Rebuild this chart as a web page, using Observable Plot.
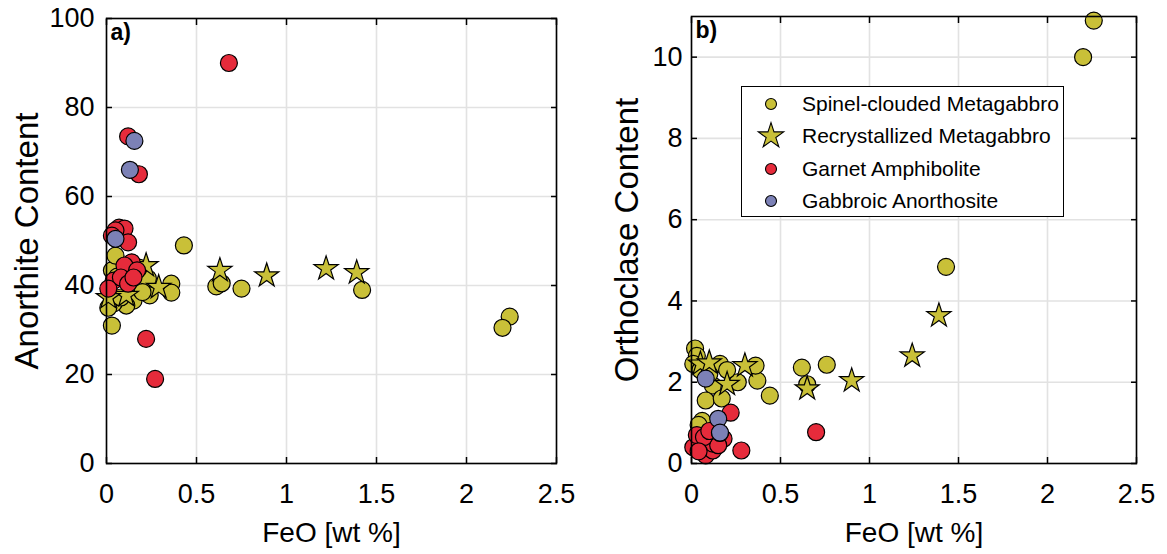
<!DOCTYPE html>
<html><head><meta charset="utf-8">
<script src="https://cdn.jsdelivr.net/npm/d3@7"></script>
<script src="https://cdn.jsdelivr.net/npm/@observablehq/plot@0.6"></script>
<style>
body{margin:0;background:#fff;font-family:"Liberation Sans",Arial,sans-serif;}
#wrap{position:relative;width:1167px;height:554px;display:flex;}
#legend{position:absolute;left:741px;top:86px;width:321px;height:129px;border:1.5px solid #000;background:#fff;font-size:21px;color:#000;}
.row{position:absolute;left:0;height:30px;display:flex;align-items:center;}
.row svg{width:60px;height:30px;}
</style></head><body><div id="wrap"></div>
<script>
// ---- categories / labels ----
const categories = ["Spinel-clouded Metagabbro","Recrystallized Metagabbro","Garnet Amphibolite","Gabbroic Anorthosite"];
const xTicks = [0,0.5,1,1.5,2,2.5];
const yTicksA = [0,20,40,60,80,100];
const yTicksB = [0,2,4,6,8,10];

// ---- panel a: FeO vs Anorthite ----
const spinelFeoA = [2.24,2.20,1.42,0.75,0.61,0.64,0.43,0.36,0.36,0.24,0.23,0.15,0.11,0.04,0.01,0.03,0.08,0.03,0.05,0.18,0.20,0.06];
const spinelAnA  = [33,30.5,39,39.3,39.8,40.5,49,40.4,38.4,37.8,41.6,36.6,35.5,36,35,31,37.3,43.4,46.7,44,38.5,42];
const recrystFeoA = [0.63,0.89,1.22,1.39,0.29,0.22,0.11,0.01];
const recrystAnA  = [43.4,42.2,43.8,42.9,39.6,44.5,37.8,37.3];
const garnetFeoA = [0.68,0.12,0.18,0.07,0.10,0.05,0.03,0.12,0.14,0.10,0.17,0.04,0.08,0.12,0.15,0.01,0.22,0.27];
const garnetAnA  = [90,73.5,65,53,52.8,52.4,51.2,49.7,45.2,44.5,43.4,41.1,41.8,40.4,41.8,39.3,28,19];
const anorthFeoA = [0.155,0.13,0.05];
const anorthAnA  = [72.5,66,50.5];

// ---- panel b: FeO vs Orthoclase ----
const spinelFeoB = [2.26,2.20,1.43,0.62,0.76,0.65,0.44,0.37,0.36,0.26,0.16,0.02,0.03,0.01,0.12,0.08,0.17,0.06,0.05,0.10,0.20,0.04];
const spinelOrB  = [10.9,10.0,4.84,2.36,2.43,1.95,1.67,2.04,2.41,2.0,2.45,2.83,2.65,2.45,1.92,1.55,1.6,1.05,2.3,2.2,2.3,0.95];
const recrystFeoB = [0.65,0.90,1.24,1.39,0.30,0.20,0.05,0.10];
const recrystOrB  = [1.84,2.04,2.65,3.64,2.41,1.95,2.45,2.48];
const garnetFeoB = [0.70,0.22,0.28,0.05,0.08,0.12,0.18,0.01,0.12,0.03,0.15,0.07,0.10,0.04,0.16];
const garnetOrB  = [0.77,1.25,0.32,0.49,0.2,0.32,0.61,0.4,0.49,0.7,0.45,0.65,0.8,0.3,0.75];
const anorthFeoB = [0.08,0.15,0.16];
const anorthOrB  = [2.09,1.1,0.76];

const colors = {"Spinel-clouded Metagabbro":"#c9c038","Recrystallized Metagabbro":"#c9c038","Garnet Amphibolite":"#e62b3b","Gabbroic Anorthosite":"#7c81b6"};
const symbols = {"Spinel-clouded Metagabbro":"circle","Recrystallized Metagabbro":"star","Garnet Amphibolite":"circle","Gabbroic Anorthosite":"circle"};

function rows(feo, val, cat){ return feo.map((f,i)=>({feo:f, val:val[i], cat})); }

const TICK_FS = 27, XLABEL_FS = 28, YLABEL_FS = 33;

function panel(o){
  const groups = [
    rows(o.sf, o.sv, categories[0]),
    rows(o.rf, o.rv, categories[1]),
    rows(o.gf, o.gv, categories[2]),
    rows(o.af, o.av, categories[3])
  ];
  const dotMarks = groups.map(g => {
    const cat = g[0].cat;
    const isStar = symbols[cat] === "star";
    return Plot.dot(g, {x:"feo", y:"val", r: isStar ? 7.6 : 8.5, symbol: symbols[cat], fill: colors[cat], stroke:"#000", strokeWidth:1.2});
  });
  return Plot.plot({
    width:o.width, height:554,
    marginLeft:o.ml, marginRight:o.mr, marginTop:o.mt, marginBottom:91,
    style:{fontFamily:"'Liberation Sans', Arial, sans-serif", fontSize:TICK_FS+"px", color:"#000", background:"transparent", overflow:"visible"},
    x:{domain:[0,2.5]},
    y:{domain:o.yDomain},
    marks:[
      Plot.gridX(xTicks, {stroke:"#e2e2e2", strokeOpacity:1, strokeWidth:1.6}),
      Plot.gridY(o.yTicks, {stroke:"#e2e2e2", strokeOpacity:1, strokeWidth:1.6}),
      Plot.axisX(xTicks, {anchor:"bottom", tickSize:0, tickPadding:20, fontSize:TICK_FS, tickFormat:d=>String(d), label:null}),
      Plot.axisX({anchor:"bottom", ticks:[], label:"FeO [wt %]", labelAnchor:"center", labelArrow:"none", labelOffset:78, fontSize:XLABEL_FS}),
      Plot.axisX(xTicks, {anchor:"bottom", tickSize:-6, tickFormat:()=>"", label:null, strokeWidth:1.5}),
      Plot.axisX(xTicks, {anchor:"top", tickSize:-6, tickFormat:()=>"", label:null, strokeWidth:1.5}),
      Plot.axisY(o.yTicks, {anchor:"left", tickSize:0, tickPadding:o.tp, fontSize:TICK_FS, tickFormat:d=>String(d), label:null}),
      Plot.axisY({anchor:"left", ticks:[], label:o.yLabel, labelAnchor:"center", labelArrow:"none", labelOffset:o.lo, fontSize:YLABEL_FS}),
      Plot.axisY(o.yTicks, {anchor:"left", tickSize:-6, tickFormat:()=>"", label:null, strokeWidth:1.5}),
      Plot.axisY(o.yTicks, {anchor:"right", tickSize:-6, tickFormat:()=>"", label:null, strokeWidth:1.5}),
      ...dotMarks,
      Plot.frame({stroke:"#000", strokeWidth:1.6}),
      Plot.text([o.tag], {frameAnchor:"top-left", dx:4, dy:5, text:d=>d, fontWeight:"bold", fontSize:23, fill:"#000"})
    ]
  });
}

const wrap = document.getElementById("wrap");
wrap.appendChild(panel({width:583, ml:106, mr:27, mt:18, yDomain:[0,100], yTicks:yTicksA, yLabel:"Anorthite Content", tp:12, lo:92, tag:"a)",
  sf:spinelFeoA, sv:spinelAnA, rf:recrystFeoA, rv:recrystAnA, gf:garnetFeoA, gv:garnetAnA, af:anorthFeoA, av:anorthAnA}));
wrap.appendChild(panel({width:584, ml:108, mr:31, mt:16, yDomain:[0,11], yTicks:yTicksB, yLabel:"Orthoclase Content", tp:9, lo:77, tag:"b)",
  sf:spinelFeoB, sv:spinelOrB, rf:recrystFeoB, rv:recrystOrB, gf:garnetFeoB, gv:garnetOrB, af:anorthFeoB, av:anorthOrB}));

// legend
const legend = document.createElement("div");
legend.id = "legend";
const rowTops = [2, 34, 67, 99];
categories.forEach((cat,i)=>{
  const row = document.createElement("div");
  row.className = "row";
  row.style.top = rowTops[i] + "px";
  const svg = d3.create("svg").attr("width",60).attr("height",30);
  const isStar = symbols[cat] === "star";
  svg.append("path")
    .attr("transform","translate(29,15)")
    .attr("d", d3.symbol(isStar ? d3.symbolStar : d3.symbolCircle, isStar ? 200 : 95)())
    .attr("fill", colors[cat]).attr("stroke","#000").attr("stroke-width",1.1);
  row.appendChild(svg.node());
  const span = document.createElement("span");
  span.textContent = cat;
  row.appendChild(span);
  legend.appendChild(row);
});
wrap.appendChild(legend);
</script>
</body></html>
